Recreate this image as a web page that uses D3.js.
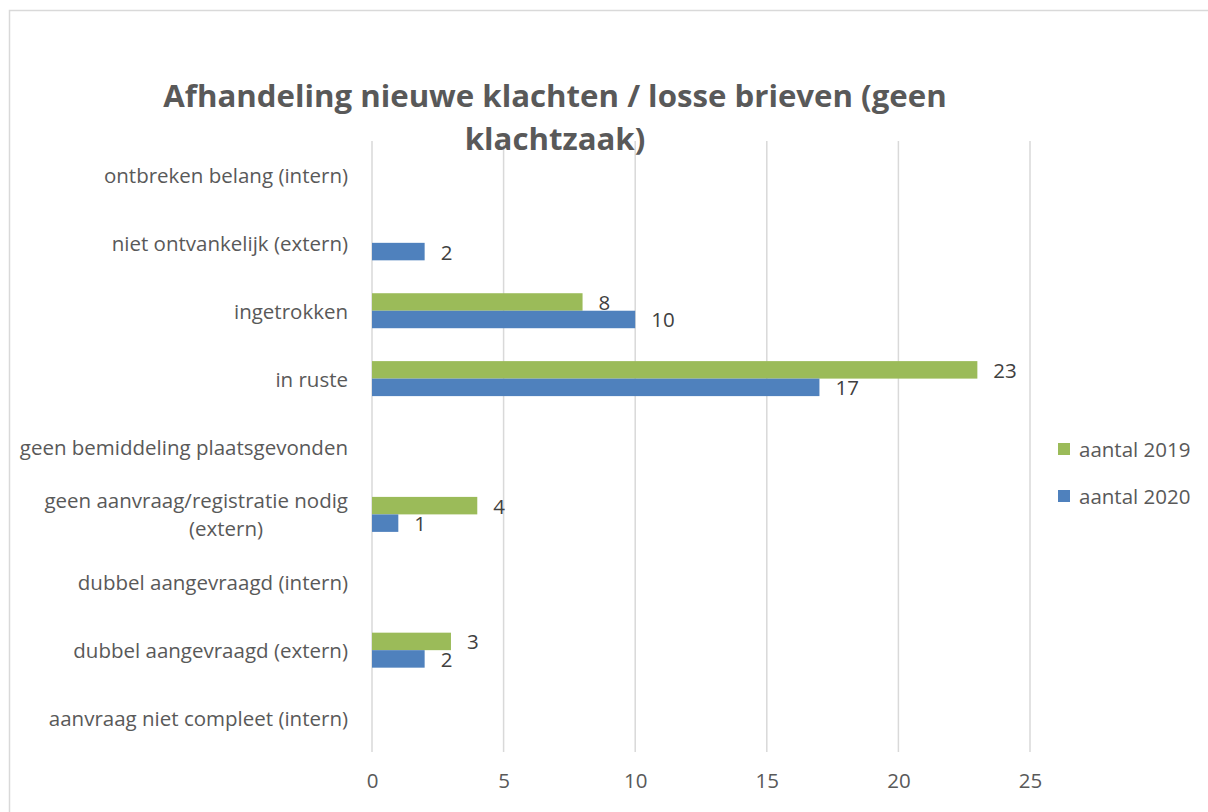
<!DOCTYPE html>
<html>
<head>
<meta charset="utf-8">
<script src="https://cdn.jsdelivr.net/npm/d3@7"></script>
<style>
  html, body { margin: 0; padding: 0; background: #fff; }
  svg { display: block; font-family: "Open Sans", sans-serif; }
</style>
</head>
<body>
<svg id="chart" width="1208" height="812"></svg>
<script>
"use strict";

/********/
/* data */
/********/

// top to bottom, as in the picture
const categories = [
  "ontbreken belang (intern)",
  "niet ontvankelijk (extern)",
  "ingetrokken",
  "in ruste",
  "geen bemiddeling plaatsgevonden",
  "geen aanvraag/registratie nodig|(extern)",
  "dubbel aangevraagd (intern)",
  "dubbel aangevraagd (extern)",
  "aanvraag niet compleet (intern)",
];
const seriesNames = ["aantal 2019", "aantal 2020"];
const values2019 = [null, null, 8, 23, null, 4, null, 3, null];
const values2020 = [null, 2, 10, 17, null, 1, null, 2, null];
const xTicks = [0, 5, 10, 15, 20, 25];
const colours = ["#9BBB59", "#4F81BD"];
const titleLines = ["Afhandeling nieuwe klachten / losse brieven (geen", "klachtzaak)"];

/********/
/* view */
/********/

const textColour = "#595959";
const gridColour = "#d9d9d9";
const fontSize = "20.5px";

const svg = d3.select("#chart");

// chart area border (runs off the right / bottom edge)
svg.append("rect")
  .attr("x", 9.5).attr("y", 10.5)
  .attr("width", 1400).attr("height", 1000)
  .attr("fill", "#fff")
  .attr("stroke", gridColour)
  .attr("stroke-width", 1.5);

const x = d3.scaleLinear().domain([0, 25]).range([372, 1030]);
const y = d3.scaleBand().domain(categories).range([141, 752]);
const ySub = d3.scaleBand().domain(seriesNames).range([0, y.bandwidth()]).paddingOuter(0.94);

// gridlines
svg.append("g")
  .selectAll("line")
  .data(xTicks)
  .join("line")
  .attr("x1", d => x(d)).attr("x2", d => x(d))
  .attr("y1", 141).attr("y2", 752)
  .attr("stroke", gridColour)
  .attr("stroke-width", 1.5);

// title (drawn over the gridlines)
svg.append("g")
  .selectAll("text")
  .data(titleLines)
  .join("text")
  .attr("x", 555)
  .attr("y", (d, i) => 107 + i * 43)
  .attr("text-anchor", "middle")
  .attr("font-size", "31.2px")
  .attr("font-weight", "bold")
  .attr("fill", textColour)
  .text(d => d);

// x axis tick labels
const xAxis = svg.append("g")
  .attr("transform", "translate(0,752)")
  .call(d3.axisBottom(x).tickValues(xTicks).tickSize(0).tickPadding(21));
xAxis.select(".domain").remove();
xAxis.selectAll("text")
  .attr("font-size", fontSize)
  .attr("font-family", "'Open Sans', sans-serif")
  .attr("fill", textColour);

// category labels
const labels = svg.append("g")
  .selectAll("text")
  .data(categories)
  .join("text")
  .attr("font-size", fontSize)
  .attr("fill", textColour)
  .attr("text-anchor", "end")
  .attr("dominant-baseline", "central");

labels.each(function(d) {
  const parts = d.split("|");
  const cy = y(d) + y.bandwidth() / 2;
  const t = d3.select(this);
  if (parts.length === 1) {
    t.attr("x", 348).attr("y", cy).text(d);
  } else {
    t.append("tspan").attr("x", 348).attr("y", cy - 14).text(parts[0]);
    t.append("tspan").attr("x", 226).attr("y", cy + 14)
      .attr("text-anchor", "middle").text(parts[1]);
  }
});

// bars + data labels
const series = [values2019, values2020];
series.forEach(function(vals, si) {
  const name = seriesNames[si];
  const rows = categories
    .map((c, i) => ({ category: c, value: vals[i] }))
    .filter(r => r.value !== null);

  const g = svg.append("g");

  g.selectAll("rect")
    .data(rows)
    .join("rect")
    .attr("x", x(0))
    .attr("y", r => y(r.category) + ySub(name))
    .attr("width", r => x(r.value) - x(0))
    .attr("height", ySub.bandwidth())
    .attr("fill", colours[si]);

  g.selectAll("text")
    .data(rows)
    .join("text")
    .attr("x", r => x(r.value) + 16)
    .attr("y", r => y(r.category) + ySub(name) + ySub.bandwidth() / 2)
    .attr("dominant-baseline", "central")
    .attr("font-size", fontSize)
    .attr("fill", "#404040")
    .text(r => r.value);
});

// legend
const legend = svg.append("g")
  .selectAll("g")
  .data(seriesNames)
  .join("g")
  .attr("transform", (d, i) => "translate(1058," + (449 + i * 47) + ")");

legend.append("rect")
  .attr("x", 0).attr("y", -6)
  .attr("width", 12).attr("height", 12)
  .attr("fill", (d, i) => colours[i]);

legend.append("text")
  .attr("x", 21)
  .attr("y", 0)
  .attr("dominant-baseline", "central")
  .attr("font-size", fontSize)
  .attr("fill", textColour)
  .text(d => d);
</script>
</body>
</html>
